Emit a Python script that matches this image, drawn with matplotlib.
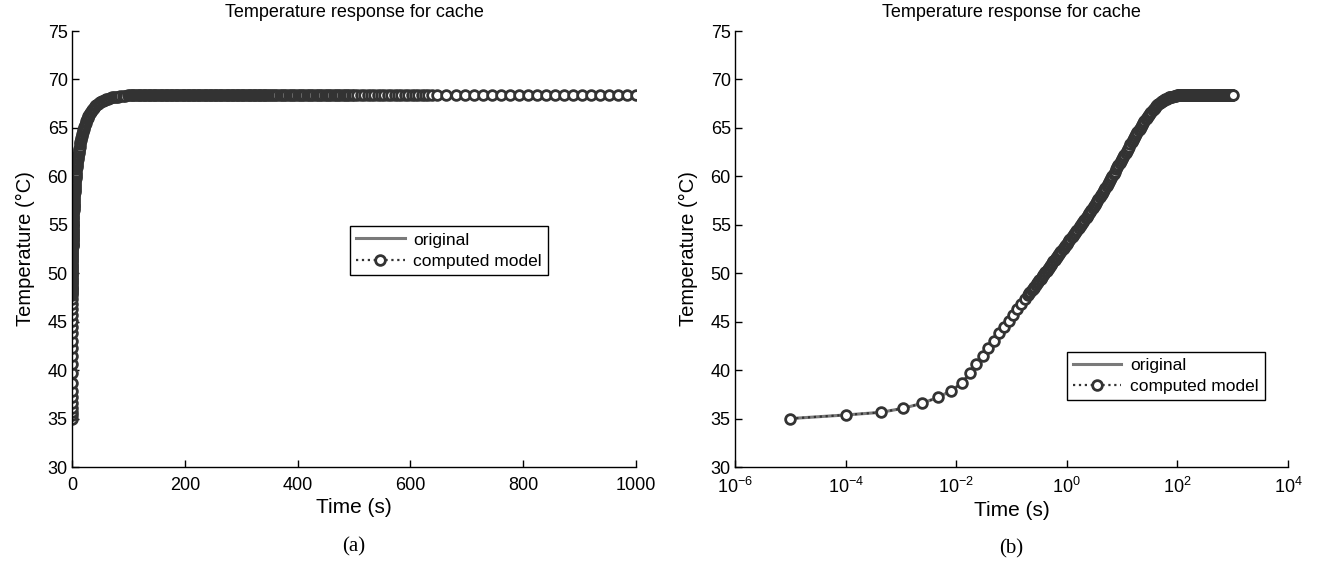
import math

import matplotlib
matplotlib.use("Agg")
import matplotlib.pyplot as plt
from matplotlib.ticker import FixedLocator, FuncFormatter, NullLocator

plt.rcParams["font.family"] = ["Liberation Sans", "DejaVu Sans"]
plt.rcParams["mathtext.default"] = "regular"

# time stamps of the solver output (s)
rise_time_s = [
    1e-5, 1e-4, 4.3e-4, 1.1e-3, 2.4e-3, 4.7e-3, 8.1e-3,
    0.0129, 0.0175, 0.023, 0.030, 0.038, 0.048, 0.060, 0.074, 0.090, 0.108,
    0.128, 0.15, 0.175,
    0.2, 0.21, 0.22, 0.23, 0.24, 0.25, 0.26, 0.275, 0.29, 0.305,
    0.32, 0.335, 0.35, 0.37, 0.39, 0.41, 0.43, 0.45, 0.47, 0.49,
    0.51, 0.54, 0.57, 0.60, 0.63, 0.66, 0.69, 0.72, 0.76, 0.80,
    0.84, 0.88, 0.92, 0.96, 1.0, 1.05, 1.1, 1.16, 1.22, 1.28,
    1.34, 1.41, 1.48, 1.55, 1.63, 1.71, 1.8, 1.89, 1.98, 2.08,
    2.18, 2.29, 2.4, 2.52, 2.65, 2.78, 2.92, 3.07, 3.22, 3.38,
    3.55, 3.73, 3.92, 4.11, 4.32, 4.53, 4.76, 5.0, 5.25, 5.5,
    5.8, 6.1, 6.4, 6.7, 7.0, 7.4, 7.8, 8.2, 8.6, 9.0,
    9.5, 10.0, 10.5, 11.0, 11.6, 12.2, 12.8, 13.4, 14.1, 14.8,
    15.5, 16.3, 17.1, 18.0, 18.9, 19.8, 20.8, 21.8, 22.9, 24.0,
    25.2, 26.5, 27.8, 29.2, 30.7, 32.2, 33.8, 35.5, 37.3, 39.2,
    41.1, 43.2, 45.4, 47.6, 50.0, 52.5, 55.1, 57.9, 60.8, 63.8,
    67.0, 70.3, 73.9, 77.5, 81.4, 85.5, 89.8, 94.3,
]
rise_temp_c = [
    35.00, 35.37, 35.64, 36.06, 36.57, 37.19, 37.87,
    38.70, 39.71, 40.62, 41.49, 42.27, 43.04, 43.78, 44.47, 45.11, 45.71,
    46.28, 46.80, 47.31,
    47.75, 47.91, 48.06, 48.22, 48.35, 48.49, 48.62, 48.80, 48.98, 49.14,
    49.30, 49.45, 49.60, 49.78, 49.96, 50.12, 50.27, 50.43, 50.57, 50.71,
    50.84, 51.03, 51.21, 51.38, 51.54, 51.70, 51.84, 51.98, 52.16, 52.33,
    52.49, 52.64, 52.79, 52.93, 53.06, 53.22, 53.38, 53.55, 53.72, 53.88,
    54.03, 54.20, 54.36, 54.51, 54.68, 54.83, 55.00, 55.16, 55.32, 55.49,
    55.66, 55.84, 56.00, 56.18, 56.36, 56.54, 56.71, 56.89, 57.07, 57.26,
    57.45, 57.65, 57.84, 58.03, 58.22, 58.40, 58.60, 58.79, 59.00, 59.20,
    59.43, 59.65, 59.86, 60.06, 60.25, 60.49, 60.72, 60.94, 61.14, 61.34,
    61.58, 61.80, 62.01, 62.21, 62.44, 62.66, 62.87, 63.07, 63.29, 63.50,
    63.70, 63.92, 64.13, 64.35, 64.54, 64.74, 64.93, 65.12, 65.33, 65.51,
    65.71, 65.88, 66.04, 66.20, 66.37, 66.53, 66.69, 66.85, 66.97, 67.09,
    67.21, 67.33, 67.46, 67.58, 67.70, 67.76, 67.82, 67.89, 67.95, 68.02,
    68.08, 68.14, 68.18, 68.20, 68.23, 68.26, 68.29, 68.32,
]
plateau_time_s = [
    100, 103, 106, 109, 112, 115, 118, 121, 124, 127, 130, 133, 136, 139,
    142, 145, 148, 151, 154, 157, 160, 163, 166, 169, 172, 175, 178, 181,
    184, 187, 190, 193, 196, 199, 202, 205, 208, 211, 214, 217, 220, 223,
    226, 229, 232, 235, 238, 241, 244, 247, 250, 253, 256, 259, 262, 265,
    268, 271, 274, 277, 280, 283, 286, 289, 292, 295, 298, 301, 304, 307,
    310, 313, 316, 319, 322, 325, 328, 331, 334, 337, 340, 343, 346, 349,
    352, 356, 360, 364, 368, 372, 376, 380, 384, 388, 392, 396, 400, 404,
    408, 412, 416, 420, 424, 428, 432, 436, 440, 444, 448, 452, 456, 460,
    464, 468, 472, 476, 480, 484, 488, 492, 496, 500,
    506, 512, 518, 524, 530, 536, 542, 548, 554, 560, 566, 572, 578, 584,
    590, 596, 602, 608, 614, 620, 626, 632, 638,
    648, 664, 680, 696, 712, 728, 744, 760, 776, 792, 808, 824, 840, 856,
    872, 888, 904, 920, 936, 952, 968, 984, 1000,
]
plateau_temp_c = 68.4

time_s = rise_time_s + plateau_time_s
temp_c = rise_temp_c + [plateau_temp_c] * len(plateau_time_s)

W, H = 1319, 569
fig = plt.figure(figsize=(W / 100, H / 100), dpi=100)
ax1 = fig.add_axes([72 / W, (H - 467) / H, 564 / W, 436 / H])
ax2 = fig.add_axes([735 / W, (H - 467) / H, 553 / W, 436 / H])

orig_color = "#7a7a7a"
model_color = "#333333"


def log_label(v, pos):
    return r"$10^{%d}$" % round(math.log10(v))


for ax, legend_anchor in ((ax1, (0.493, 0.552)), (ax2, (0.600, 0.264))):
    ax.plot(time_s, temp_c, "-", color=orig_color, lw=2.2, label="original")
    ax.plot(time_s, temp_c, ":", color=model_color, lw=1.6, marker="o",
            ms=7, mew=2.0, mfc="white", mec=model_color,
            label="computed model")
    ax.set_ylim(30, 75)
    ax.set_yticks(range(30, 80, 5))
    for side in ("top", "right"):
        ax.spines[side].set_visible(False)
    for side in ("left", "bottom"):
        ax.spines[side].set_linewidth(1.0)
    ax.tick_params(direction="in", length=5, width=1.0, labelsize=13)
    ax.tick_params(axis="x", pad=7)
    ax.tick_params(axis="y", pad=3)
    ax.set_title("Temperature response for cache", fontsize=13, pad=10)
    ax.set_xlabel("Time (s)", fontsize=15, labelpad=3)
    ax.set_ylabel("Temperature (\u00b0C)", fontsize=14.5, labelpad=9)
    leg = ax.legend(loc="upper left", bbox_to_anchor=legend_anchor,
                    fontsize=12.5, fancybox=False, framealpha=1,
                    edgecolor="black", handlelength=2.8, borderpad=0.35,
                    labelspacing=0.35, handletextpad=0.5, borderaxespad=0)
    leg.get_frame().set_linewidth(1.0)

ax1.set_xlim(0, 1000)
ax1.set_xticks(range(0, 1001, 200))

ax2.set_xscale("log")
ax2.set_xlim(1e-6, 1e4)
ax2.xaxis.set_major_locator(FixedLocator([1e-6, 1e-4, 1e-2, 1e0, 1e2, 1e4]))
ax2.xaxis.set_minor_locator(NullLocator())
ax2.xaxis.set_major_formatter(FuncFormatter(log_label))

fig.text(354 / W, 1 - 547 / H, "(a)", ha="center", va="center",
         fontsize=15, family=["Liberation Serif", "DejaVu Serif"])
fig.text(1011 / W, 1 - 549 / H, "(b)", ha="center", va="center",
         fontsize=15, family=["Liberation Serif", "DejaVu Serif"])

fig.savefig("out.png", dpi=100)
